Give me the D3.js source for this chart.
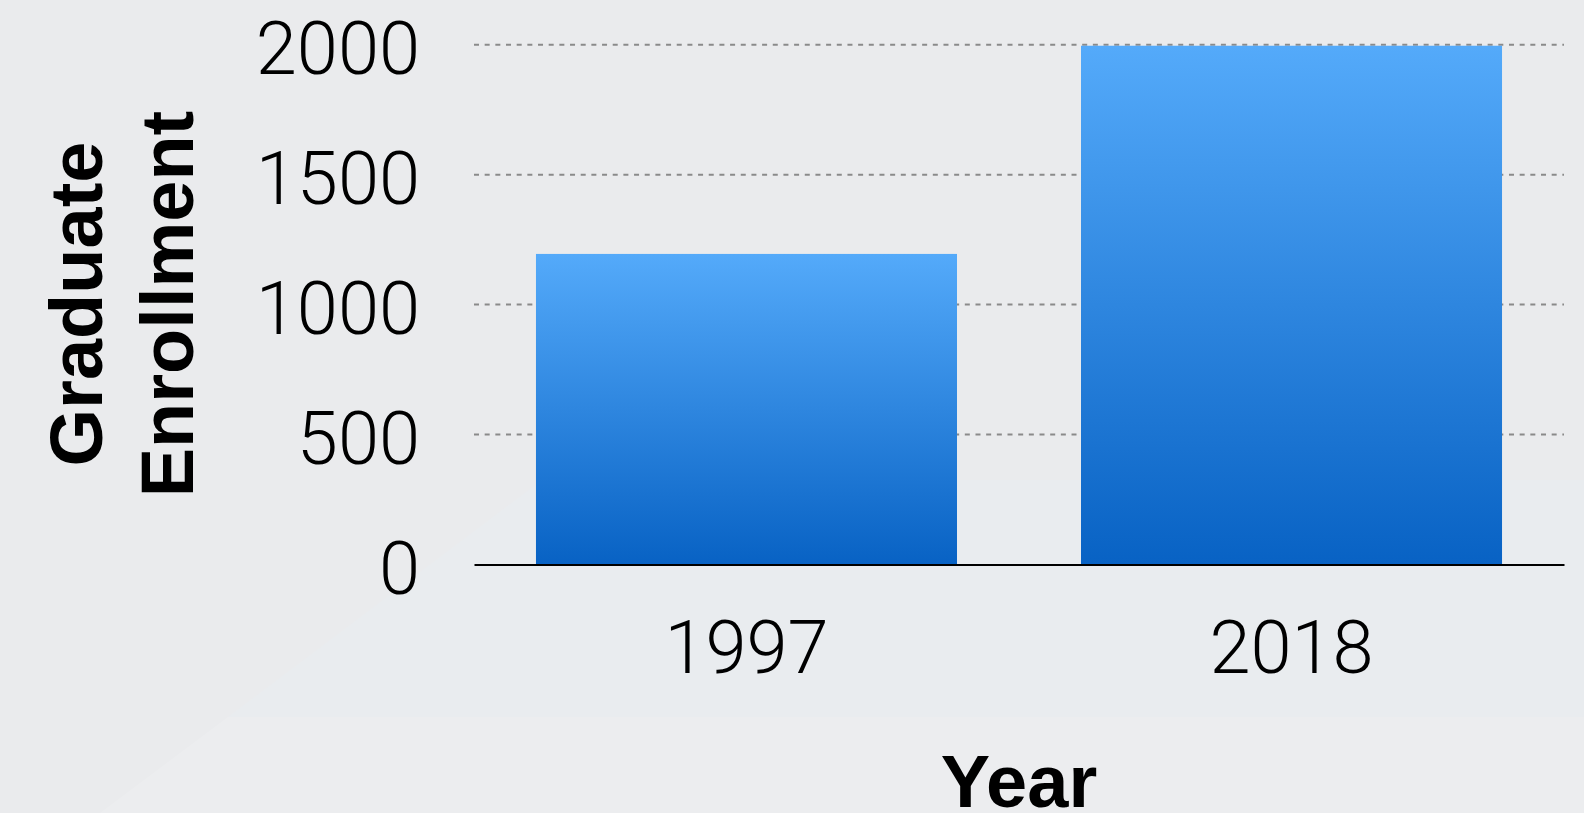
<!DOCTYPE html>
<html>
<head>
<meta charset="utf-8">
<script src="https://cdn.jsdelivr.net/npm/d3@7"></script>
<style>
  html, body { margin: 0; padding: 0; background: #eaebed; overflow: hidden; }
</style>
</head>
<body>
<div class="chart-container"></div>
<script>
// --- Data ---
const years = ["1997", "2018"];
const enrollment = [1195, 1996];
const yTicks = [0, 500, 1000, 1500, 2000];

const createBarChart = () => {
  // --- Chart dimensions ---
  const W = 1584;
  const H = 813;
  const plot = { left: 474, right: 1564, top: 44.7, bottom: 564.5 };

  const svg = d3.select(".chart-container")
    .append("svg")
    .attr("width", W)
    .attr("height", H)
    .style("display", "block");

  // --- Background with faint diagonal panels ---
  svg.append("rect")
    .attr("width", W).attr("height", H)
    .attr("fill", "#eaebed");

  svg.append("polygon")
    .attr("points", "542,480 1584,480 1584,717 228,717")
    .attr("fill", "#e9ecef");
  svg.append("polygon")
    .attr("points", "228,717 1584,717 1584,813 100,813")
    .attr("fill", "#ecedef");

  // --- Bar gradient ---
  const defs = svg.append("defs");
  const barGradient = defs.append("linearGradient")
    .attr("id", "barGradient")
    .attr("x1", "0%").attr("y1", "0%")
    .attr("x2", "0%").attr("y2", "100%");
  barGradient.append("stop").attr("offset", "0%").attr("stop-color", "#54aafa");
  barGradient.append("stop").attr("offset", "100%").attr("stop-color", "#0862c4");

  // --- Scales ---
  const xScale = d3.scaleBand()
    .domain(years)
    .range([plot.left, plot.right])
    .paddingInner(0.2275)
    .paddingOuter(0.1137);

  const yScale = d3.scaleLinear()
    .domain([0, 2000])
    .range([plot.bottom, plot.top]);

  // --- Grid lines (behind bars) ---
  svg.selectAll(".grid-line")
    .data(yTicks.filter(d => d > 0))
    .join("line")
    .attr("class", "grid-line")
    .attr("x1", plot.left)
    .attr("x2", plot.right)
    .attr("y1", d => yScale(d))
    .attr("y2", d => yScale(d))
    .style("stroke", "#8a8a8a")
    .style("stroke-width", 2)
    .style("stroke-dasharray", "5,5.67");

  // --- Bars ---
  const data = years.map((y, i) => ({ year: y, value: enrollment[i] }));
  svg.selectAll(".bar")
    .data(data)
    .join("rect")
    .attr("class", "bar")
    .attr("x", d => xScale(d.year))
    .attr("y", d => yScale(d.value))
    .attr("width", xScale.bandwidth())
    .attr("height", d => yScale(0) - yScale(d.value))
    .attr("fill", "url(#barGradient)");

  // --- Y axis (labels only) ---
  const yAxis = svg.append("g")
    .attr("transform", `translate(${plot.left},0)`)
    .call(d3.axisLeft(yScale)
      .tickValues(yTicks)
      .tickFormat(d3.format("d"))
      .tickSize(0)
      .tickPadding(54));
  yAxis.select(".domain").remove();
  yAxis.selectAll("text")
    .attr("dy", "0.39em")
    .style("font-family", "Roboto, 'Helvetica Neue', sans-serif")
    .style("font-weight", 300)
    .style("font-size", "74px")
    .style("fill", "#000");

  // --- X axis ---
  const xAxis = svg.append("g")
    .attr("transform", `translate(0,${plot.bottom})`)
    .call(d3.axisBottom(xScale).tickSize(0).tickSizeOuter(0));
  xAxis.select(".domain")
    .style("stroke", "#000")
    .style("stroke-width", 2);
  xAxis.selectAll("text")
    .attr("y", 108.5)
    .attr("dy", 0)
    .style("font-family", "Roboto, 'Helvetica Neue', sans-serif")
    .style("font-weight", 300)
    .style("font-size", "74px")
    .style("fill", "#000");

  // --- Axis titles ---
  const titleFont = "'Liberation Sans', Arial, sans-serif";
  svg.append("text")
    .text("Year")
    .attr("x", (plot.left + plot.right) / 2)
    .attr("y", 807)
    .attr("text-anchor", "middle")
    .style("font-family", titleFont)
    .style("font-weight", "bold")
    .style("font-size", "74px")
    .style("fill", "#000");

  [["Graduate", 101.7], ["Enrollment", 193]].forEach(([label, x]) => {
    svg.append("text")
      .text(label)
      .attr("transform", `translate(${x},304) rotate(-90)`)
      .attr("text-anchor", "middle")
      .style("font-family", titleFont)
      .style("font-weight", "bold")
      .style("font-size", "74px")
      .style("fill", "#000");
  });
};

createBarChart();
</script>
</body>
</html>
